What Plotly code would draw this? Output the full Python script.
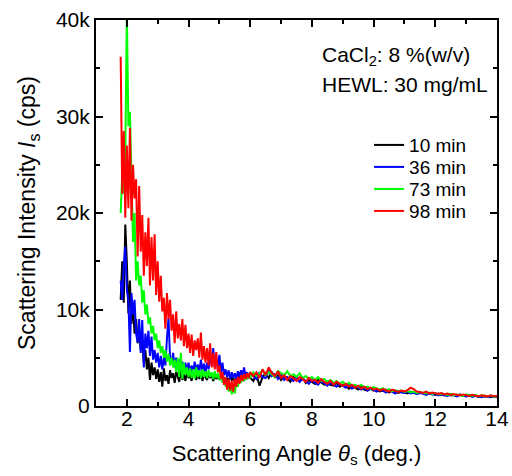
import numpy as np
import plotly.graph_objects as go

# x sampling (deg.)
x_dense = np.round(np.arange(1.80, 6.001, 0.05), 2)
x_tail = np.round(np.arange(6.1, 14.001, 0.1), 2)
angle = np.concatenate([x_dense, x_tail])

# intensities in thousands of cps
black_dense = [11.0, 15.0, 10.7, 18.8, 14.9, 9.6, 13.0, 8.5, 10.5, 7.5,
               9.0, 6.5, 7.8, 5.8, 6.8, 4.5, 5.8, 3.8, 5.0, 2.7,
               4.5, 3.2, 4.0, 2.8, 3.8, 2.5, 3.5, 2.0, 3.9, 2.6,
               3.2, 2.3, 3.7, 2.9, 3.4, 2.4, 3.6, 3.0, 2.5, 3.8,
               2.7, 3.3, 2.6, 3.5, 2.9, 3.2, 2.6, 3.6, 3.0, 2.7,
               3.5, 2.8, 3.4, 2.6, 3.3, 3.0, 2.7, 3.4, 2.9, 3.2,
               2.6, 3.3, 2.8, 3.1, 2.7, 3.2, 2.6, 3.0, 2.5, 2.9,
               2.6, 3.1, 2.7, 2.9, 2.5, 3.0, 2.7, 3.2, 2.8, 3.0,
               2.6, 3.2, 2.8, 3.1, 2.9]
black_tail = [2.6, 3.3, 2.1, 3.0, 3.4, 2.9, 3.5, 3.0, 3.2, 2.7,
              3.1, 2.9, 2.5, 3.0, 2.7, 2.6, 2.9, 2.4, 2.7, 2.5,
              2.3, 2.7, 2.4, 2.2, 2.5, 2.2, 2.1, 2.4, 2.0, 2.2,
              2.1, 1.8, 2.0, 1.9, 1.7, 2.0, 1.7, 1.6, 1.8, 1.6,
              1.7, 1.5, 1.6, 1.7, 1.4, 1.6, 1.5, 1.35, 1.5, 1.4,
              1.3, 1.5, 1.35, 1.25, 1.4, 1.3, 1.2, 1.35, 1.25, 1.15,
              1.3, 1.2, 1.1, 1.25, 1.1, 1.15, 1.05, 1.2, 1.05, 1.0,
              1.1, 1.0, 1.05, 0.95, 1.05, 0.95, 1.0, 0.9, 1.0, 0.95]

blue_dense = [13.0, 11.0, 14.5, 16.5, 12.0, 11.0, 5.6, 11.7, 9.5, 11.0,
              7.5, 6.6, 9.0, 5.5, 8.9, 4.0, 7.5, 6.0, 7.8, 5.2,
              7.2, 4.8, 5.8, 4.5, 5.5, 4.0, 5.2, 3.8, 5.0, 4.2,
              7.0, 9.1, 5.0, 4.5, 5.5, 4.0, 5.0, 3.8, 4.8, 3.6,
              4.6, 3.5, 4.5, 3.5, 4.5, 3.4, 4.2, 3.5, 4.6, 3.6,
              4.3, 3.5, 4.8, 3.6, 4.4, 3.4, 4.5, 3.8, 5.5, 4.2,
              6.0, 4.0, 5.0, 3.8, 5.3, 3.5, 4.5, 3.2, 3.8, 3.0,
              3.7, 2.8, 3.5, 2.9, 3.4, 2.8, 3.6, 3.0, 3.7, 3.2,
              4.0, 3.1, 3.5, 3.0, 3.4]
blue_tail = [3.1, 2.8, 3.5, 3.0, 2.9, 3.7, 3.1, 3.3, 2.8, 3.2,
             2.7, 3.0, 2.8, 2.6, 3.0, 2.5, 2.8, 2.6, 2.3, 2.7,
             2.4, 2.2, 2.6, 2.3, 2.1, 2.4, 2.2, 2.0, 2.3, 2.1,
             1.9, 2.2, 1.8, 2.0, 1.9, 1.7, 1.9, 1.6, 1.8, 1.7,
             1.5, 1.7, 1.6, 1.4, 1.6, 1.5, 1.3, 1.55, 1.4, 1.35,
             1.5, 1.3, 1.4, 1.25, 1.35, 1.3, 1.15, 1.3, 1.2, 1.25,
             1.1, 1.2, 1.15, 1.05, 1.2, 1.1, 1.0, 1.15, 1.05, 1.0,
             1.1, 0.95, 1.05, 1.0, 0.9, 1.05, 0.95, 1.0, 0.9, 1.0]

green_dense = [20.0, 24.0, 22.0, 26.0, 41.0, 29.0, 30.5, 24.0, 17.0, 20.0,
               13.0, 15.0, 12.5, 13.5, 10.7, 12.0, 9.5, 10.5, 8.5, 9.2,
               7.5, 8.3, 6.8, 7.5, 6.0, 6.8, 5.5, 6.2, 5.0, 5.8,
               4.6, 5.4, 4.2, 5.0, 4.0, 4.8, 3.5, 5.0, 3.0, 5.5,
               2.8, 4.5, 3.2, 4.0, 3.0, 3.9, 2.9, 3.8, 2.8, 4.0,
               3.0, 3.7, 2.9, 3.8, 3.0, 3.6, 2.9, 3.7, 3.0, 3.5,
               2.8, 3.6, 2.9, 3.4, 2.7, 3.3, 2.4, 3.0, 2.0, 2.6,
               1.5, 2.3, 1.2, 2.0, 1.3, 2.4, 2.0, 2.8, 2.4, 3.0,
               2.6, 3.2, 2.8, 3.3, 3.0]
green_tail = [3.5, 3.1, 3.4, 3.7, 3.2, 3.5, 3.3, 3.0, 3.6, 3.4,
              3.2, 3.6, 3.1, 3.3, 3.0, 3.4, 2.9, 3.1, 2.8, 3.0,
              2.7, 3.0, 2.6, 2.8, 2.5, 2.7, 2.4, 2.6, 2.3, 2.5,
              2.2, 2.4, 2.1, 2.2, 2.0, 2.2, 1.9, 2.0, 1.8, 1.95,
              1.8, 1.7, 1.85, 1.6, 1.75, 1.55, 1.65, 1.5, 1.6, 1.45,
              1.55, 1.4, 1.5, 1.35, 1.45, 1.4, 1.3, 1.4, 1.25, 1.35,
              1.2, 1.3, 1.25, 1.15, 1.25, 1.1, 1.2, 1.15, 1.05, 1.2,
              1.1, 1.05, 1.15, 1.0, 1.1, 1.05, 1.0, 1.1, 0.95, 1.05]

red_dense = [36.2, 22.0, 28.5, 19.5, 27.0, 20.5, 28.8, 19.2, 25.0, 21.5,
             23.5, 15.5, 22.8, 16.0, 19.8, 13.5, 18.0, 14.5, 19.5, 12.5,
             17.5, 13.0, 17.8, 11.5, 15.0, 10.8, 13.5, 9.8, 11.2, 8.0,
             11.7, 9.0, 11.0, 7.8, 9.5, 6.5, 9.8, 7.0, 8.5, 6.8,
             9.0, 6.2, 8.4, 6.0, 7.5, 5.5, 7.4, 5.2, 6.8, 5.8,
             7.0, 5.0, 7.6, 4.8, 6.2, 4.5, 6.0, 4.2, 6.5, 4.0,
             5.5, 3.8, 5.6, 3.5, 4.2, 2.8, 3.5, 2.2, 3.0, 1.7,
             2.8, 1.6, 2.6, 1.5, 2.8, 2.0, 3.0, 2.3, 3.2, 2.6,
             3.3, 2.8, 3.4, 2.9, 3.5]
red_tail = [3.1, 3.5, 2.9, 3.8, 3.2, 4.0, 3.4, 3.1, 3.6, 2.9,
            3.2, 2.7, 3.1, 2.9, 2.6, 3.0, 2.8, 2.5, 2.9, 2.6,
            2.7, 2.4, 2.8, 2.5, 2.3, 2.6, 2.2, 2.5, 2.3, 2.1,
            2.3, 2.0, 2.2, 1.9, 2.1, 1.8, 2.0, 1.75, 1.9, 1.7,
            1.8, 1.6, 1.75, 1.65, 1.5, 1.7, 1.55, 1.45, 1.6, 1.5,
            1.65, 1.9, 1.75, 1.5, 1.45, 1.35, 1.5, 1.3, 1.4, 1.35,
            1.25, 1.35, 1.2, 1.3, 1.15, 1.25, 1.2, 1.1, 1.2, 1.15,
            1.05, 1.15, 1.1, 1.0, 1.1, 1.05, 1.0, 1.1, 1.0, 1.05]

series_names = ["10 min", "36 min", "73 min", "98 min"]
series_values = [black_dense + black_tail, blue_dense + blue_tail,
                 green_dense + green_tail, red_dense + red_tail]
series_colors = ["#000000", "#0000ff", "#00ff00", "#ff0000"]

y_tickvals = [0, 10, 20, 30, 40]
y_ticktext = ["0", "10k", "20k", "30k", "40k"]
x_tickvals = [2, 4, 6, 8, 10, 12, 14]

FONT = "Liberation Sans, Arial, sans-serif"

legend_ids = ["legend", "legend2", "legend3", "legend4"]
legend_y = [0.676, 0.619, 0.562, 0.505]

fig = go.Figure()
for name, vals, col, lid in zip(series_names, series_values, series_colors, legend_ids):
    fig.add_trace(go.Scatter(x=angle, y=vals, mode="lines", name=name, legend=lid,
                             line=dict(color=col, width=2)))

axis_common = dict(showline=True, linecolor="black", linewidth=2, mirror="allticks",
                   ticks="inside", ticklen=7, tickwidth=2, tickcolor="black",
                   showgrid=False, zeroline=False, automargin=False,
                   tickfont=dict(family=FONT, size=21, color="black"))

fig.update_xaxes(range=[1, 14], tickvals=x_tickvals, ticklabelstandoff=-7,
                 minor=dict(ticks="inside", dtick=1, tick0=1, ticklen=4, tickwidth=1.5, tickcolor="black"),
                 title=dict(text="Scattering Angle <i>θ</i><sub>s</sub> (deg.)",
                            font=dict(family=FONT, size=22, color="black"), standoff=16),
                 **axis_common)
fig.update_yaxes(range=[0, 40], tickvals=y_tickvals, ticktext=y_ticktext,
                 minor=dict(ticks="inside", dtick=5, tick0=0, ticklen=4, tickwidth=1.5, tickcolor="black"),
                 title=dict(text="Scattering Intensity <i>I</i><sub>s</sub> (cps)",
                            font=dict(family=FONT, size=23, color="black"), standoff=14),
                 **axis_common)

fig.add_annotation(x=0.559, y=0.907, xref="paper", yref="paper", xanchor="left", yanchor="middle",
                   text="CaCl<sub>2</sub>: 8 %(w/v)", showarrow=False,
                   font=dict(family=FONT, size=21, color="black"))
fig.add_annotation(x=0.559, y=0.834, xref="paper", yref="paper", xanchor="left", yanchor="middle",
                   text="HEWL: 30 mg/mL", showarrow=False,
                   font=dict(family=FONT, size=21, color="black"))

legend_layout = {}
for lid, ly in zip(legend_ids, legend_y):
    legend_layout[lid] = dict(x=0.681, y=ly, xanchor="left", yanchor="middle",
                              bgcolor="rgba(0,0,0,0)", borderwidth=0,
                              font=dict(family=FONT, size=19, color="black"))

fig.update_layout(
    width=512, height=476,
    margin=dict(l=96, r=15, t=20, b=70, autoexpand=False),
    paper_bgcolor="white", plot_bgcolor="white",
    showlegend=True,
    **legend_layout,
)

fig.write_html("out.html",
               config={"displayModeBar": False},
               post_script="document.body.style.margin='0';document.body.style.overflow='hidden';")
